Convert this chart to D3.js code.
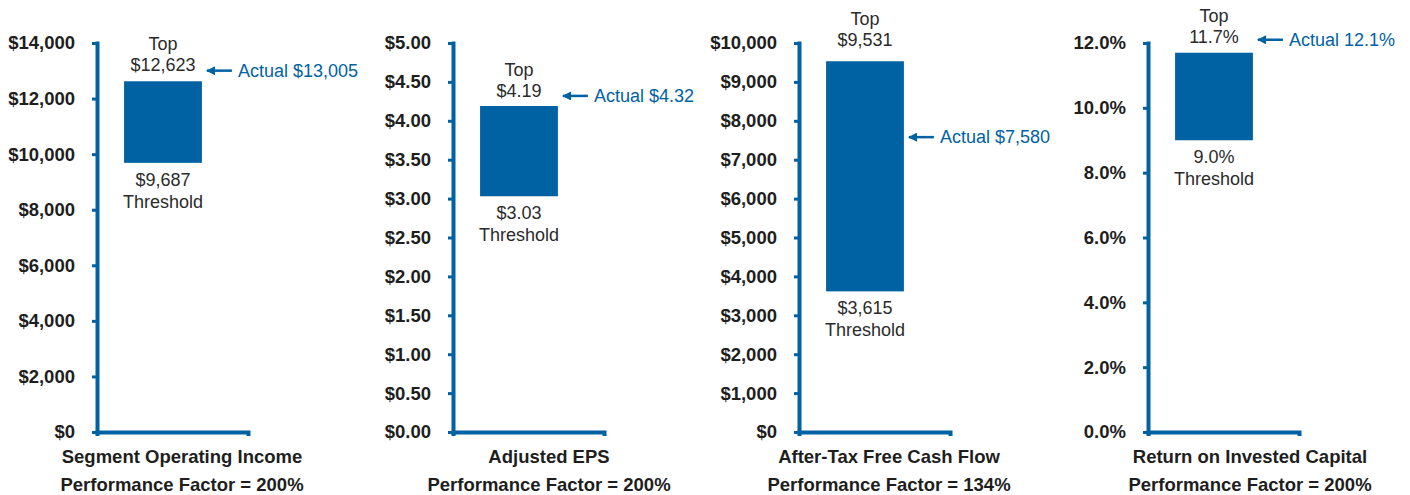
<!DOCTYPE html>
<html>
<head>
<meta charset="utf-8">
<script src="https://cdn.jsdelivr.net/npm/d3@7"></script>
<style>
  html, body { margin: 0; padding: 0; background: #fff; }
  svg { display: block; font-family: "Liberation Sans", Arial, Helvetica, sans-serif; }
</style>
</head>
<body>
<svg id="chart" width="1410" height="495"></svg>
<script>
// ---- Data ----
const metrics = ["Segment Operating Income", "Adjusted EPS", "After-Tax Free Cash Flow", "Return on Invested Capital"];
const thresholds = [9687, 3.03, 3615, 9.0];
const tops = [12623, 4.19, 9531, 11.7];
const actuals = [13005, 4.32, 7580, 12.1];
const performanceFactors = [200, 200, 134, 200];
const yMaxes = [14000, 5, 10000, 12];
const yTickValues = [
  [0, 2000, 4000, 6000, 8000, 10000, 12000, 14000],
  [0, 0.5, 1, 1.5, 2, 2.5, 3, 3.5, 4, 4.5, 5],
  [0, 1000, 2000, 3000, 4000, 5000, 6000, 7000, 8000, 9000, 10000],
  [0, 2, 4, 6, 8, 10, 12]
];
const tickFormats = ["$,.0f", "$.2f", "$,.0f", "pct1"];
const valueFormats = ["$,.0f", "$.2f", "$,.0f", "pct1"];
const topLabel = "Top";
const thresholdLabel = "Threshold";
const actualLabel = "Actual";
const factorLabel = "Performance Factor = ";

// ---- Layout (positions only) ----
const axisX = [97, 453, 799, 1148];
const labelCenterX = [182, 549, 889, 1250];
const topGap = [10, 9, 15, 10];
const plotTop = 43, plotBottom = 432, plotWidth = 151;
const blue = "#0062A3";
const textDark = "#2b2b2b";
const tickColor = "#1e1e1e";

function fmt(kind) {
  if (kind === "pct1") { const f = d3.format(".1f"); return v => f(v) + "%"; }
  return d3.format(kind);
}

const svg = d3.select("#chart");

svg.append("defs").append("marker")
  .attr("id", "arrowhead")
  .attr("viewBox", "0 0 10 10")
  .attr("refX", 9).attr("refY", 5)
  .attr("markerUnits", "userSpaceOnUse")
  .attr("markerWidth", 10).attr("markerHeight", 9)
  .attr("orient", "auto")
  .append("path")
  .attr("d", "M0,0 L10,5 L0,10 Z")
  .attr("fill", blue);

metrics.forEach((name, i) => {
  const g = svg.append("g").attr("transform", `translate(${axisX[i]},0)`);
  const y = d3.scaleLinear().domain([0, yMaxes[i]]).range([plotBottom, plotTop]);
  const x = d3.scaleBand().domain([name]).range([0, plotWidth])
    .paddingInner(0).paddingOuter(0.47).align(0.37);

  // y axis
  const ya = g.append("g")
    .call(d3.axisLeft(y).tickValues(yTickValues[i]).tickFormat(fmt(tickFormats[i]))
      .tickSize(5).tickSizeOuter(0).tickPadding(17));
  ya.select(".domain").attr("stroke", blue).attr("stroke-width", 4).attr("stroke-linecap", "square");
  ya.selectAll(".tick line").attr("stroke", blue).attr("stroke-width", 3);
  ya.selectAll(".tick text")
    .attr("fill", tickColor)
    .style("font-size", "18.5px").style("font-weight", "bold")
    .style("font-family", "'Liberation Sans', Arial, sans-serif");

  // x axis
  const xa = g.append("g").attr("transform", `translate(0,${plotBottom})`)
    .call(d3.axisBottom(x).tickValues([]).tickSizeOuter(4));
  xa.select(".domain").attr("stroke", blue).attr("stroke-width", 4);

  // bar
  const bx = x(name), bw = x.bandwidth();
  g.append("rect")
    .attr("x", bx).attr("width", bw)
    .attr("y", y(tops[i])).attr("height", y(thresholds[i]) - y(tops[i]))
    .attr("fill", blue);

  const vf = fmt(valueFormats[i]);
  const cx = bx + bw / 2;
  const tl = g.append("text").attr("text-anchor", "middle").attr("fill", textDark)
    .style("font-size", "18px");
  tl.append("tspan").attr("x", cx).attr("y", y(tops[i]) - topGap[i] - 21).text(topLabel);
  tl.append("tspan").attr("x", cx).attr("y", y(tops[i]) - topGap[i]).text(vf(tops[i]));

  const bl = g.append("text").attr("text-anchor", "middle").attr("fill", textDark)
    .style("font-size", "18px");
  bl.append("tspan").attr("x", cx).attr("y", y(thresholds[i]) + 23).text(vf(thresholds[i]));
  bl.append("tspan").attr("x", cx).attr("y", y(thresholds[i]) + 45).text(thresholdLabel);

  // actual arrow
  const ay = y(actuals[i]);
  const tipX = bx + bw + 5;
  g.append("line")
    .attr("x1", tipX + 25).attr("x2", tipX)
    .attr("y1", ay).attr("y2", ay)
    .attr("stroke", blue).attr("stroke-width", 2.5)
    .attr("marker-end", "url(#arrowhead)");
  g.append("text")
    .attr("x", tipX + 31).attr("y", ay).attr("dy", "0.35em")
    .attr("fill", blue).style("font-size", "18px")
    .text(`${actualLabel} ${vf(actuals[i])}`);

  // category labels
  svg.append("text")
    .attr("x", labelCenterX[i]).attr("y", 463)
    .attr("text-anchor", "middle").attr("fill", tickColor)
    .style("font-size", "18.5px").style("font-weight", "bold")
    .text(name);
  svg.append("text")
    .attr("x", labelCenterX[i]).attr("y", 491)
    .attr("text-anchor", "middle").attr("fill", tickColor)
    .style("font-size", "18.5px").style("font-weight", "bold")
    .text(factorLabel + performanceFactors[i] + "%");
});
</script>
</body>
</html>
